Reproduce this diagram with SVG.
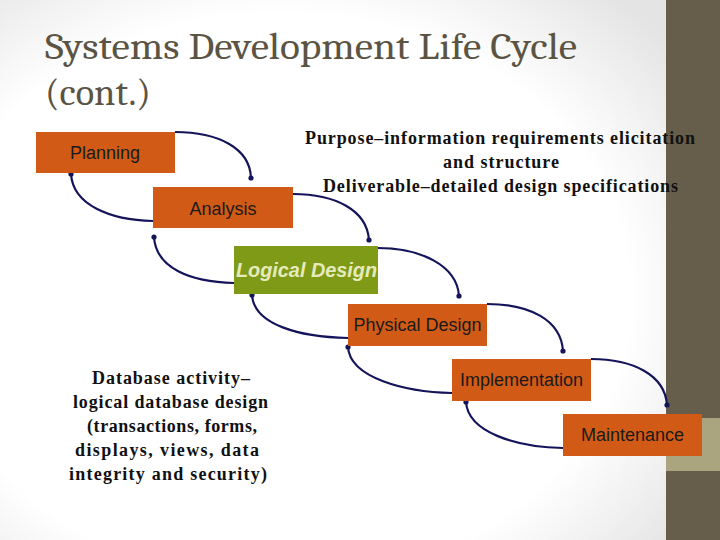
<svg xmlns="http://www.w3.org/2000/svg" width="720" height="540" viewBox="0 0 720 540">
<defs>
<radialGradient id="bg" cx="0.42" cy="0.55" r="0.75">
<stop offset="0" stop-color="#ffffff"/>
<stop offset="0.7" stop-color="#ffffff"/>
<stop offset="1" stop-color="#e4e4e4"/>
</radialGradient>
<marker id="dot" viewBox="0 0 6 6" refX="3" refY="3" markerWidth="6" markerHeight="6" markerUnits="userSpaceOnUse">
<circle cx="3" cy="3" r="2.6" fill="#14145a"/>
</marker>
<style>
.box{fill:#d25a17;}
.lbl{font-family:"Liberation Sans",Arial,sans-serif;font-size:18px;fill:#1a1a1a;text-anchor:middle;}
.note{font-family:"Liberation Serif","Times New Roman",serif;font-weight:bold;font-size:18px;fill:#111;}
.con{fill:none;stroke:#14145a;stroke-width:2.2;marker-end:url(#dot);}
</style>
</defs>
<rect x="0" y="0" width="666" height="540" fill="url(#bg)"/>
<rect x="666" y="0" width="54" height="540" fill="#665d4a"/>
<rect x="666" y="418" width="54" height="53" fill="#aaa57f"/>
<g id="title">
<text x="45" y="59" font-family="Cambria,'Liberation Serif',serif" font-size="38" fill="#5b5444" textLength="532" lengthAdjust="spacingAndGlyphs">Systems Development Life Cycle</text>
<text x="45" y="105" font-family="Cambria,'Liberation Serif',serif" font-size="38" fill="#5b5444" textLength="106" lengthAdjust="spacingAndGlyphs">(cont.)</text>
</g>
<g id="connectors">
<path class="con" d="M175,132 C218,132 250,148 251,178"/>
<path class="con" d="M293,194 C335,194 367,210 369,240"/>
<path class="con" d="M378,248 C420,248 457,265 459,296"/>
<path class="con" d="M487,304 C530,304 561,320 563,351"/>
<path class="con" d="M591,359 C633,359 665,375 667,405"/>
<path class="con" d="M153,221 C110,220 73,205 71,174"/>
<path class="con" d="M234,283 C190,282 156,268 154,237"/>
<path class="con" d="M348,338 C300,337 254,325 252,295"/>
<path class="con" d="M452,393 C405,392 350,378 348,347"/>
<path class="con" d="M563,448 C515,447 468,432 466,402"/>
</g>
<g id="planning">
<rect class="box" x="36" y="132" width="139" height="41"/>
<text class="lbl" x="105" y="159">Planning</text>
</g>
<g id="analysis">
<rect class="box" x="153" y="187" width="140" height="41"/>
<text class="lbl" x="223" y="215">Analysis</text>
</g>
<g id="logical-design">
<rect x="234" y="246" width="144" height="48" fill="#7f9a16"/>
<text x="236" y="277" font-family="'Liberation Sans',Arial,sans-serif" font-style="italic" font-weight="bold" font-size="20" fill="#e6ebbd" textLength="141" lengthAdjust="spacingAndGlyphs">Logical Design</text>
</g>
<g id="physical-design">
<rect class="box" x="348" y="304" width="139" height="42"/>
<text class="lbl" x="417.5" y="331">Physical Design</text>
</g>
<g id="implementation">
<rect class="box" x="452" y="359" width="139" height="42"/>
<text class="lbl" x="521.5" y="386">Implementation</text>
</g>
<g id="maintenance">
<rect class="box" x="563" y="414" width="139" height="42"/>
<text class="lbl" x="632.5" y="441">Maintenance</text>
</g>
<g id="purpose-note">
<text class="note" x="305" y="144" textLength="390" lengthAdjust="spacing">Purpose–information requirements elicitation</text>
<text class="note" x="443" y="168" textLength="116" lengthAdjust="spacing">and structure</text>
<text class="note" x="323" y="192" textLength="355" lengthAdjust="spacing">Deliverable–detailed design specifications</text>
</g>
<g id="database-note">
<text class="note" x="92" y="384" textLength="158" lengthAdjust="spacing">Database activity–</text>
<text class="note" x="73" y="408" textLength="195" lengthAdjust="spacing">logical database design</text>
<text class="note" x="87" y="432" textLength="170" lengthAdjust="spacing">(transactions, forms,</text>
<text class="note" x="75" y="456" textLength="184" lengthAdjust="spacing">displays, views, data</text>
<text class="note" x="69" y="480" textLength="198" lengthAdjust="spacing">integrity and security)</text>
</g>
</svg>
